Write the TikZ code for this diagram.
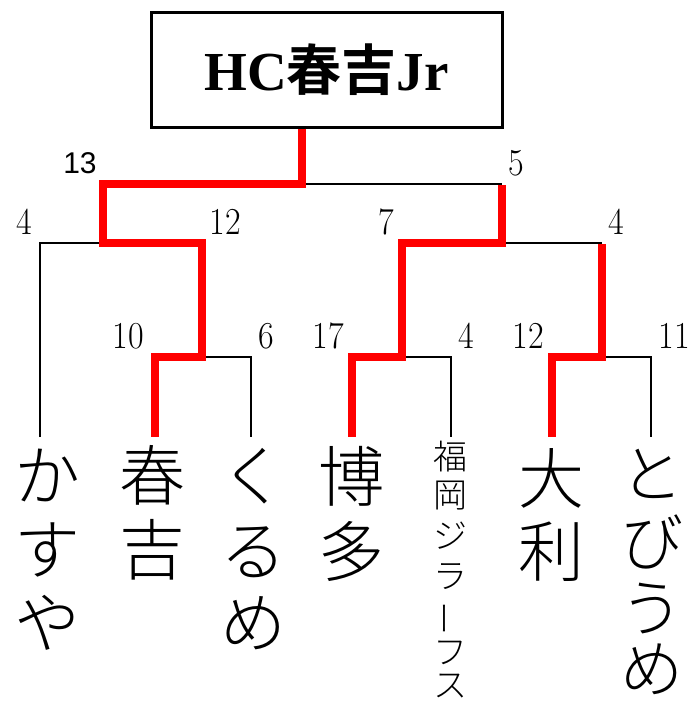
\documentclass[tikz,border=0pt]{standalone}
\usepackage{fontspec}
\newfontfamily\cjk{Noto Sans CJK JP Light}
\newfontfamily\cjkb{Noto Sans CJK JP Bold}
\newfontfamily\sfnum{Liberation Sans}
\newfontfamily\titlefont{Liberation Serif Bold}
\newcommand\tallnum[1]{\scalebox{1}[1.12]{#1}}
\tikzset{
  blk/.style={line width=2.6pt, black},
  win/.style={line width=7.5pt, red, line join=miter},
  score/.style={inner sep=0pt, font=\fontsize{34}{34}\selectfont},
  bigc/.style={inner sep=0pt, text height=53pt, text depth=3pt, font=\cjk\fontsize{66}{66}\selectfont},
  tbc/.style={inner sep=0pt, text height=50pt, text depth=3pt, font=\cjk\fontsize{63}{63}\selectfont},
  smallc/.style={inner sep=0pt, font=\cjk\fontsize{34}{34}\selectfont},
}
\begin{document}
\begin{tikzpicture}[x=1pt,y=-1pt]
\useasboundingbox (0,0) rectangle (693,705);
% champion box
\node[draw, line width=3pt, minimum width=351pt, minimum height=115pt, inner sep=0pt] (champ) at (326.5,69.5)
  {\fontsize{55}{55}\selectfont\titlefont HC\cjkb 春吉\titlefont Jr};
% junctions
\coordinate (F) at (302,184);
\coordinate (FL) at (103,184); \coordinate (FR) at (502,184);
\coordinate (S1) at (103,243); \coordinate (S1l) at (40,243); \coordinate (S1r) at (202,243);
\coordinate (S2) at (502,243); \coordinate (S2l) at (402,243); \coordinate (S2r) at (602,243);
\coordinate (M1) at (202,357); \coordinate (M1l) at (155,357); \coordinate (M1r) at (251,357);
\coordinate (M2) at (402,357); \coordinate (M2l) at (352,357); \coordinate (M2r) at (451,357);
\coordinate (M3) at (602,357); \coordinate (M3l) at (552,357); \coordinate (M3r) at (651,357);
\coordinate (e1) at (40,437); \coordinate (e2) at (155,437); \coordinate (e3) at (251,437);
\coordinate (e4) at (352,437); \coordinate (e5) at (451,437); \coordinate (e6) at (552,437);
\coordinate (e7) at (651,437);
% black lines
\draw[blk] (F) -- (FR);
\draw[blk] (S2) -- (S2r);
\draw[blk] (e1) -- (S1l) -- (S1);
\draw[blk] (M1) -- (M1r) -- (e3);
\draw[blk] (M2) -- (M2r) -- (e5);
\draw[blk] (M3) -- (M3r) -- (e7);
% winners
\draw[win] (champ.south -| F) -- (F) -- (FL) -- (S1) -- (S1r) -- (M1) -- (M1l) -- (e2);
\draw[win] ([yshift=-1.3pt]FR) -- (S2) -- (S2l) -- (M2) -- (M2l) -- (e4);
\draw[win] ([yshift=-1.3pt]S2r) -- (M3) -- (M3l) -- (e6);
% scores
\node[score, font=\sfnum\fontsize{30}{30}\selectfont] (s13) at (80,163) {13};
\node[score] (s5) at (516,163) {\tallnum{5}};
\node[score] (s4a) at (24,222) {\tallnum{4}};
\node[score] (s12a) at (225,222) {\tallnum{12}};
\node[score] (s7) at (386,222) {\tallnum{7}};
\node[score] (s4b) at (616,222) {\tallnum{4}};
\node[score] (s10) at (128,336) {\tallnum{10}};
\node[score] (s6) at (266,336) {\tallnum{6}};
\node[score] (s17) at (328,336) {\tallnum{17}};
\node[score] (s4c) at (466,336) {\tallnum{4}};
\node[score] (s12b) at (528,336) {\tallnum{12}};
\node[score] (s11) at (674,336) {\tallnum{11}};
% team names (vertical)
\node[bigc] (ka1) at (47,475) {か};
\node[bigc] (ka2) at (47,549) {す};
\node[bigc] (ka3) at (47,622) {や};
\node[bigc] (hr1) at (152,475) {春};
\node[bigc] (hr2) at (152,549) {吉};
\node[bigc] (ku1) at (253,475) {く};
\node[bigc] (ku2) at (253,550) {る};
\node[bigc] (ku3) at (253,622) {め};
\node[bigc] (ht1) at (351,476) {博};
\node[bigc] (ht2) at (351,551) {多};
\node[smallc] (fg1) at (450,457) {福};
\node[smallc] (fg2) at (450,496) {岡};
\node[smallc] (fg3) at (450,536) {ジ};
\node[smallc] (fg4) at (450,577) {ラ};
\node[smallc, rotate=90] (fg5) at (450,618) {ー};
\node[smallc] (fg6) at (450,653) {フ};
\node[smallc] (fg7) at (450,686) {ス};
\node[bigc] (oo1) at (551,478) {大};
\node[bigc] (oo2) at (551,551) {利};
\node[tbc] (tb1) at (652,474) {と};
\node[tbc] (tb2) at (652,542) {び};
\node[tbc] (tb3) at (652,608) {う};
\node[tbc] (tb4) at (652,669) {め};
\end{tikzpicture}
\end{document}
